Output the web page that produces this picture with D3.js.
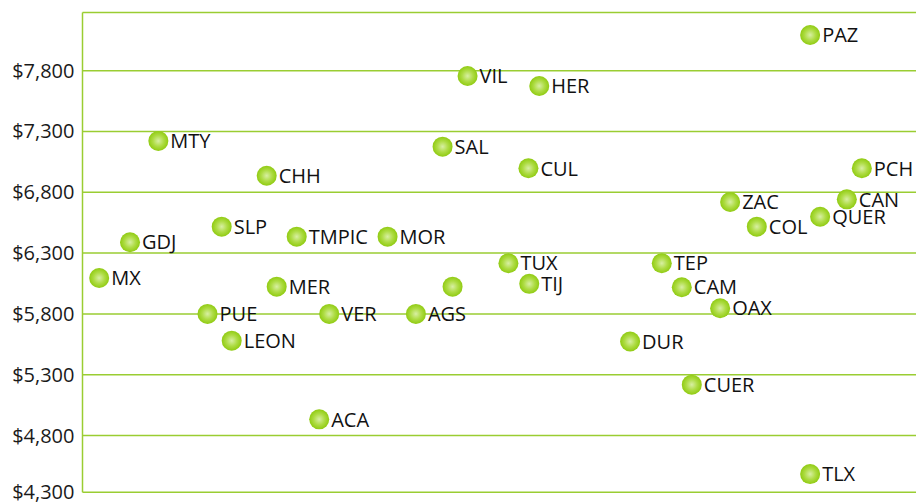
<!DOCTYPE html>
<html>
<head>
<meta charset="utf-8">
<script src="https://cdn.jsdelivr.net/npm/d3@7"></script>
<style>
  body { margin: 0; background: #fff; }
  text { font-family: "Open Sans", sans-serif; }
</style>
</head>
<body>
<div id="chart"></div>
<script>
// city codes, horizontal position (0-100) and value in pesos
var cities = ["MX", "GDJ", "MTY", "PUE", "SLP", "LEON", "CHH", "MER", "TMPIC", "ACA",
              "VER", "MOR", "AGS", "", "SAL", "VIL", "TUX", "CUL", "TIJ", "HER",
              "DUR", "TEP", "CAM", "CUER", "OAX", "ZAC", "COL", "PAZ", "TLX", "QUER",
              "CAN", "PCH"];
var xPos = [2.0, 5.7, 9.1, 15.0, 16.7, 17.9, 22.1, 23.3, 25.7, 28.4,
            29.6, 36.6, 40.0, 44.4, 43.2, 46.2, 51.1, 53.5, 53.6, 54.8,
            65.7, 69.5, 71.9, 73.1, 76.5, 77.7, 80.9, 87.3, 87.3, 88.5,
            91.7, 93.5];
var values = [6095, 6389, 7222, 5800, 6517, 5580, 6936, 6024, 6435, 4933,
              5800, 6435, 5800, 6024, 7175, 7756, 6216, 6997, 6047, 7674,
              5573, 6216, 6019, 5218, 5846, 6720, 6517, 8093, 4483, 6599,
              6742, 6997];
var yTicks = [4300, 4800, 5300, 5800, 6300, 6800, 7300, 7800];

var W = 916, H = 502;
var plotL = 82.5, plotT = 12.5, plotB = 492.3;
var green = "#9ACD32";

var svg = d3.select("#chart").append("svg")
    .attr("width", W)
    .attr("height", H);

var x = d3.scaleLinear().domain([0, 100]).range([plotL, W]);
var y = d3.scaleLinear().domain([4333, 8278]).range([plotB, plotT]).clamp(true);

var defs = svg.append("defs");
var grad = defs.append("radialGradient").attr("id", "dot")
    .attr("cx", "50%").attr("cy", "50%").attr("r", "50%");
grad.append("stop").attr("offset", "0%").attr("stop-color", "#d8efa3");
grad.append("stop").attr("offset", "55%").attr("stop-color", "#aedc44");
grad.append("stop").attr("offset", "100%").attr("stop-color", "#90cb12");

// gridlines
svg.append("g").selectAll("line")
    .data(yTicks.concat([8278]))
  .enter().append("line")
    .attr("x1", plotL).attr("x2", W)
    .attr("y1", function(d) { return y(d); })
    .attr("y2", function(d) { return y(d); })
    .attr("stroke", green).attr("stroke-width", 1.5);

svg.append("line")
    .attr("x1", plotL).attr("x2", plotL)
    .attr("y1", plotT).attr("y2", plotB)
    .attr("stroke", green).attr("stroke-width", 1.5);

// y labels
svg.append("g").selectAll("text")
    .data(yTicks)
  .enter().append("text")
    .attr("x", plotL - 8)
    .attr("y", function(d) { return y(d); })
    .attr("dy", "0.35em")
    .attr("text-anchor", "end")
    .attr("fill", "#1a1a1a")
    .style("font-size", "20px")
    .text(function(d) { return "$" + d3.format(",")(d); });

// points
var pts = svg.append("g").selectAll("g")
    .data(cities)
  .enter().append("g")
    .attr("transform", function(d, i) {
      return "translate(" + x(xPos[i]) + "," + y(values[i]) + ")";
    });

pts.append("circle")
    .attr("r", 10)
    .attr("fill", "url(#dot)");

pts.append("text")
    .attr("x", 12)
    .attr("dy", "0.36em")
    .attr("fill", "#111")
    .style("font-size", "20px")
    .text(function(d) { return d; });
</script>
</body>
</html>
